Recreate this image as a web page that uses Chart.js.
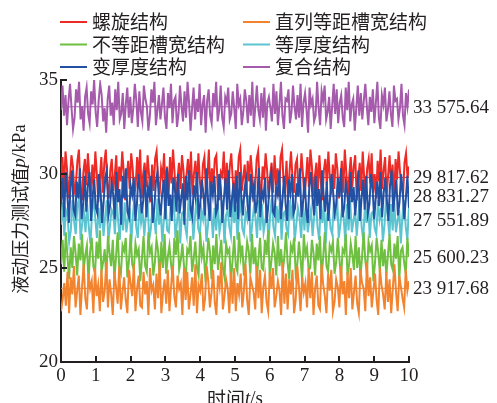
<!DOCTYPE html>
<html>
<head>
<meta charset="utf-8">
<script src="https://cdn.jsdelivr.net/npm/chart.js@4/dist/chart.umd.min.js"></script>
<style>
  html, body { margin: 0; padding: 0; background: #ffffff; }
  #wrap { width: 497px; height: 403px; overflow: hidden; }
</style>
</head>
<body>
<div id="wrap"><canvas id="c" width="497" height="403"></canvas></div>
<script>
// Measured pressure p (kPa) over 10 s for six groove structures
const structureNames = ['螺旋结构', '直列等距槽宽结构', '不等距槽宽结构', '等厚度结构', '变厚度结构', '复合结构'];
const seriesColors = ['#ec2a26', '#f2832f', '#6fbf40', '#5cc4d0', '#2250a3', '#a55aac'];
const meanValues = [29.81762, 23.91768, 25.60023, 27.55189, 28.83127, 33.57564];
const xTicks = [0, 1, 2, 3, 4, 5, 6, 7, 8, 9, 10];
const yTicks = [20, 25, 30, 35];
const duration = 10;

const spiral = [29.6, 30.9, 29.1, 31.2, 30.3, 28.7, 29.8, 31.0, 30.4, 28.9, 29.5, 30.7, 31.3, 29.2, 28.6, 30.1, 30.8, 29.4, 31.1, 29.9, 28.8, 30.5, 29.3, 31.2, 30.0, 28.5, 29.7, 30.9, 29.0, 30.6, 31.3, 29.5, 28.7, 30.2, 30.8, 29.1, 29.9, 31.0, 28.9, 30.4, 29.6, 31.2, 30.1, 28.6, 29.8, 30.7, 29.2, 31.1, 30.3, 28.8, 29.4, 30.9, 29.7, 31.3, 28.7, 30.0, 30.6, 29.3, 31.0, 29.9, 28.5, 30.5, 29.1, 30.8, 31.2, 29.6, 28.9, 30.3, 29.8, 31.1, 29.0, 30.4, 28.7, 30.9, 29.5, 31.3, 30.1, 28.8, 29.7, 30.6, 29.2, 31.0, 30.2, 28.6, 29.9, 30.8, 29.4, 31.2, 28.9, 30.0, 30.7, 29.3, 31.1, 29.6, 28.7, 30.5, 30.9, 29.1, 29.8, 31.3, 28.8, 30.3, 29.5, 30.8, 31.0, 29.2, 28.6, 30.1, 29.9, 31.2, 29.0, 30.6, 28.9, 30.4, 31.1, 29.7, 28.7, 30.2, 29.4, 30.9, 31.3, 29.1, 29.8, 30.5, 28.8, 30.7, 29.6, 31.0, 30.0, 28.5, 29.3, 30.8, 31.2, 29.5, 28.9, 30.4, 29.7, 31.1, 30.2, 28.7, 29.9, 30.6, 29.0, 31.0, 29.4, 30.3, 28.8, 30.9, 31.3, 29.6, 29.2, 30.7, 28.6, 30.1, 31.2, 29.8, 29.0, 30.5, 30.8, 28.9, 29.5, 31.1, 30.0, 28.7, 29.7, 30.9, 29.3, 31.3, 30.4, 28.8, 29.9, 30.6, 29.1, 31.0, 29.6, 28.6, 30.2, 30.8, 29.4, 31.2, 29.8, 28.9, 30.5, 29.2, 31.1, 30.3, 28.7, 29.5, 30.7, 29.0, 31.3, 30.1, 28.8, 29.9, 30.9, 29.3, 30.4, 31.0, 28.6, 29.7, 30.6, 29.1, 31.2, 29.8, 28.9, 30.3, 30.8, 29.5, 31.1, 29.0, 30.0, 28.7, 30.7, 29.6, 31.3, 29.2, 30.2, 30.9, 28.8, 29.9, 31.0, 29.4, 30.5, 28.6, 30.8, 29.7, 31.2, 30.1, 29.3, 28.9, 30.6, 31.1, 29.8, 30.4];

const straightGroove = [22.7, 23.3, 24.2, 23.0, 24.8, 22.6, 24.5, 23.6, 25.1, 22.9, 23.8, 24.6, 22.5, 24.0, 25.2, 23.4, 22.8, 24.7, 23.9, 24.3, 22.6, 25.0, 23.5, 24.1, 22.7, 24.9, 23.2, 23.8, 25.3, 22.9, 24.4, 23.6, 22.5, 24.8, 24.0, 23.1, 25.1, 22.8, 23.7, 24.5, 23.3, 22.6, 24.9, 24.2, 23.5, 25.2, 22.7, 23.9, 24.6, 23.0, 22.9, 24.8, 23.6, 24.3, 22.5, 25.0, 23.8, 24.1, 22.8, 24.7, 23.4, 25.3, 22.6, 23.7, 24.4, 23.1, 24.9, 22.7, 24.0, 25.1, 23.5, 22.9, 24.6, 23.9, 24.2, 22.5, 25.0, 23.3, 24.8, 22.8, 23.6, 24.5, 23.0, 25.2, 22.6, 24.1, 23.8, 24.7, 22.7, 23.4, 25.1, 24.3, 22.9, 23.7, 24.9, 23.2, 22.5, 24.6, 24.0, 25.3, 22.8, 23.5, 24.4, 23.9, 22.6, 24.8, 23.1, 25.0, 22.7, 24.2, 23.6, 24.7, 22.9, 23.8, 25.2, 23.3, 22.5, 24.5, 24.1, 23.7, 22.8, 25.1, 23.4, 24.9, 22.6, 24.0, 24.6, 23.2, 22.7, 24.8, 23.9, 25.0, 22.9, 23.5, 24.3, 23.8, 22.5, 25.3, 23.1, 24.7, 22.8, 24.4, 23.6, 24.9, 22.6, 23.3, 25.1, 24.0, 22.7, 24.5, 23.7, 24.2, 22.9, 25.0, 23.4, 24.8, 22.5, 23.9, 24.6, 23.0, 22.8, 25.2, 24.1, 23.5, 22.6, 24.7, 23.8, 24.9, 22.7, 23.2, 24.4, 24.0, 22.9, 25.1, 23.6, 24.3, 22.5, 24.8, 23.4, 25.0, 22.8, 23.7, 24.6, 23.1, 22.6, 24.9, 24.2, 23.9, 22.7, 25.3, 23.5, 24.5, 22.9, 23.8, 24.7, 23.3, 22.5, 25.0, 24.1, 23.6, 22.8, 24.8, 23.2, 24.4, 22.6, 23.9, 25.2, 23.7, 22.7, 24.6, 24.0, 23.4, 22.9, 24.9, 23.8, 24.3];

const unequalGroove = [25.2, 26.5, 24.8, 26.9, 25.6, 24.4, 26.1, 25.0, 26.7, 25.8, 24.6, 26.3, 25.4, 26.8, 24.9, 25.7, 26.2, 24.3, 25.9, 26.6, 25.1, 24.7, 26.4, 25.5, 27.0, 24.8, 25.3, 26.0, 24.5, 26.7, 25.8, 25.1, 26.5, 24.4, 25.6, 26.9, 25.0, 24.7, 26.2, 25.9, 26.6, 24.5, 25.4, 26.8, 25.2, 24.9, 26.3, 25.7, 26.0, 24.3, 25.5, 26.7, 25.1, 24.8, 26.9, 25.8, 26.1, 24.6, 25.3, 26.5, 25.9, 24.4, 26.4, 25.0, 26.8, 24.7, 25.6, 26.2, 25.2, 24.5, 26.6, 25.7, 27.0, 24.9, 25.4, 26.3, 25.1, 24.3, 26.0, 25.8, 26.7, 24.8, 25.5, 26.4, 25.0, 24.6, 26.9, 25.6, 26.1, 24.7, 25.3, 26.6, 25.9, 24.4, 26.2, 25.2, 26.8, 24.9, 25.7, 26.5, 25.0, 24.5, 26.3, 25.8, 26.0, 24.3, 25.4, 26.7, 25.1, 24.8, 26.9, 25.6, 26.2, 24.6, 25.3, 26.4, 25.9, 24.7, 26.8, 25.2, 26.1, 24.4, 25.5, 26.6, 25.0, 24.9, 26.5, 25.7, 27.0, 24.5, 25.4, 26.3, 25.8, 24.6, 26.7, 25.1, 26.0, 24.8, 25.6, 26.9, 25.3, 24.4, 26.2, 25.9, 26.6, 24.7, 25.2, 26.4, 25.5, 24.3, 26.8, 25.7, 26.1, 24.9, 25.0, 26.5, 25.8, 24.6, 26.3, 25.4, 26.7, 24.5, 25.6, 26.9, 25.1, 24.8, 26.2, 25.9, 26.4, 24.7, 25.3, 26.6, 25.5, 24.4, 26.0, 25.8, 26.8, 24.6, 25.2, 26.3, 25.7, 24.9, 26.7, 25.0, 26.1, 24.5, 25.6, 26.9, 25.4, 24.7, 26.4, 25.9, 26.2, 24.3, 25.3, 26.6, 25.8, 24.8, 26.5, 25.1, 26.0, 24.6, 25.7, 26.8, 25.2, 24.9, 26.3, 25.5, 26.7, 24.4, 25.9, 26.1, 25.3, 24.7, 26.6, 25.6];

const uniformThickness = [27.3, 28.5, 26.7, 28.1, 27.8, 26.4, 27.0, 28.6, 27.5, 26.8, 28.3, 28.7, 26.5, 27.4, 28.0, 26.9, 28.4, 27.2, 26.3, 27.9, 28.8, 27.6, 26.6, 28.2, 27.1, 28.5, 26.7, 27.7, 28.6, 26.4, 27.3, 28.1, 27.9, 26.8, 28.7, 27.5, 26.5, 28.3, 27.0, 28.5, 26.9, 27.6, 28.2, 26.3, 27.8, 28.8, 27.2, 26.6, 28.4, 27.4, 28.0, 26.7, 27.9, 28.6, 26.5, 27.1, 28.3, 27.7, 26.8, 28.7, 27.3, 28.1, 26.4, 27.6, 28.5, 27.0, 26.9, 28.2, 27.8, 28.8, 26.6, 27.4, 28.4, 26.3, 27.9, 28.0, 27.2, 26.7, 28.6, 27.5, 28.3, 26.5, 27.7, 28.7, 27.1, 26.8, 28.1, 27.6, 28.5, 26.4, 27.3, 28.8, 27.9, 26.6, 28.2, 27.0, 28.4, 26.9, 27.5, 28.6, 26.3, 27.8, 28.1, 27.2, 26.7, 28.7, 27.4, 28.3, 26.5, 27.9, 28.5, 27.1, 26.8, 28.0, 27.6, 28.8, 26.4, 27.3, 28.2, 27.7, 26.6, 28.6, 27.0, 28.4, 26.9, 27.5, 28.1, 26.3, 27.8, 28.7, 27.2, 26.7, 28.3, 27.4, 28.5, 26.5, 27.9, 28.0, 27.1, 26.8, 28.6, 27.6, 28.8, 26.4, 27.3, 28.2, 27.7, 26.6, 28.4, 27.0, 28.5, 26.9, 27.5, 28.1, 26.7, 27.8, 28.7, 27.2, 26.5, 28.3, 27.4, 28.6, 26.3, 27.9, 28.0, 27.1, 26.8, 28.5, 27.6, 28.8, 26.6, 27.3, 28.2, 27.7, 26.4, 28.4, 27.0, 28.6, 26.9, 27.5, 28.1, 26.7, 27.8, 28.7, 27.2, 26.5, 28.3, 27.4, 28.5, 26.6, 27.9, 28.0, 27.1, 26.8, 28.6, 27.6, 28.2, 26.4, 27.3, 28.8, 27.7, 26.7, 28.4, 27.0, 28.5, 26.9, 27.5, 28.1, 26.3, 27.8, 28.6, 27.2, 26.5, 28.3];

const variableThickness = [28.5, 29.8, 27.7, 30.1, 28.9, 27.4, 29.3, 30.2, 28.1, 27.8, 29.6, 28.7, 30.3, 27.6, 28.4, 29.9, 28.0, 29.4, 30.1, 27.5, 28.8, 29.7, 28.2, 27.9, 30.0, 29.1, 27.4, 28.6, 29.8, 30.2, 27.8, 28.3, 29.5, 28.9, 27.6, 30.1, 28.5, 29.2, 27.3, 29.9, 28.7, 30.3, 28.0, 27.7, 29.4, 28.9, 29.8, 27.5, 28.4, 30.0, 29.1, 27.9, 28.6, 30.2, 27.7, 29.3, 28.8, 29.9, 27.4, 28.2, 29.6, 30.1, 28.5, 27.8, 29.0, 29.7, 27.6, 30.3, 28.3, 28.9, 27.5, 29.8, 29.2, 28.0, 30.0, 27.9, 28.7, 29.5, 27.3, 29.9, 28.6, 30.2, 28.1, 27.7, 29.4, 28.8, 30.1, 27.6, 28.4, 29.7, 29.0, 27.8, 30.3, 28.5, 27.5, 29.6, 28.9, 29.9, 27.9, 28.2, 30.0, 29.3, 27.4, 28.7, 29.8, 28.1, 30.2, 27.7, 28.6, 29.5, 28.0, 29.9, 27.6, 30.1, 28.8, 27.8, 29.2, 29.7, 28.3, 27.5, 30.0, 28.9, 29.4, 27.9, 28.5, 30.3, 27.7, 29.1, 28.7, 29.8, 27.4, 28.3, 29.6, 30.1, 28.0, 27.8, 29.3, 28.9, 30.2, 27.6, 28.6, 29.9, 28.4, 27.5, 29.7, 29.0, 30.0, 27.9, 28.2, 29.5, 28.8, 30.3, 27.7, 28.5, 29.8, 28.1, 27.4, 29.4, 30.1, 28.7, 27.8, 29.9, 28.3, 29.2, 27.6, 30.2, 28.9, 28.0, 29.6, 27.5, 28.6, 30.0, 29.1, 27.9, 28.4, 29.8, 28.8, 30.3, 27.7, 28.2, 29.5, 29.0, 27.6, 30.1, 28.5, 29.3, 27.8, 28.9, 30.2, 27.5, 28.7, 29.7, 28.1, 29.9, 27.9, 28.4, 30.0, 29.2, 27.6, 28.8, 29.6, 28.3, 30.1, 27.7, 29.0, 29.8, 28.6, 27.5, 29.4, 30.2, 28.0, 28.9, 29.7, 27.8, 28.5, 30.0, 29.1, 27.6, 28.7, 29.9, 28.2];

const composite = [33.4, 34.7, 33.1, 34.2, 32.6, 33.9, 34.8, 33.5, 32.4, 33.0, 34.5, 33.8, 34.9, 32.9, 33.6, 32.3, 34.1, 34.6, 33.2, 32.7, 34.4, 33.7, 35.0, 33.3, 32.5, 33.9, 34.8, 34.2, 32.8, 33.5, 32.2, 34.0, 34.7, 33.1, 33.8, 32.6, 34.5, 33.4, 34.9, 32.9, 33.2, 34.3, 32.4, 33.7, 34.6, 33.0, 34.1, 32.7, 33.5, 34.8, 33.9, 32.5, 34.4, 33.3, 32.8, 34.7, 34.0, 33.6, 32.3, 33.1, 34.5, 33.8, 34.9, 32.6, 33.4, 34.2, 32.9, 33.7, 34.6, 33.0, 32.4, 34.3, 33.5, 34.8, 32.7, 33.9, 34.1, 32.5, 33.2, 34.7, 33.6, 32.8, 34.4, 33.0, 34.9, 33.8, 32.3, 33.5, 34.6, 32.9, 34.0, 33.3, 34.8, 32.6, 33.7, 34.2, 32.2, 33.9, 34.5, 33.1, 32.7, 34.3, 33.6, 34.9, 32.8, 33.4, 34.7, 33.0, 32.5, 34.1, 33.8, 34.6, 32.9, 33.2, 34.4, 33.5, 32.4, 34.8, 33.7, 34.0, 32.6, 33.3, 34.5, 33.9, 32.7, 34.2, 33.1, 34.9, 32.5, 33.6, 34.7, 33.4, 32.9, 34.3, 33.0, 34.6, 32.3, 33.8, 34.1, 33.5, 32.8, 34.8, 33.2, 34.4, 32.6, 33.7, 34.9, 33.1, 32.4, 34.0, 33.9, 34.5, 32.7, 33.3, 34.7, 33.6, 32.9, 34.2, 33.0, 34.8, 32.5, 33.8, 34.3, 33.4, 32.2, 34.6, 33.7, 34.0, 32.8, 33.1, 34.9, 33.5, 32.6, 34.4, 33.9, 34.7, 32.9, 33.3, 34.1, 32.4, 33.6, 34.8, 33.2, 34.5, 32.7, 33.8, 34.2, 33.0, 32.5, 34.6, 33.4, 34.9, 32.8, 33.7, 34.0, 32.3, 33.5, 34.7, 33.1, 34.3, 32.9, 33.9, 34.8, 33.6, 32.6, 34.1, 33.3, 34.5, 32.7, 33.8, 34.9, 33.0, 32.4, 34.2, 33.7, 34.6, 32.8, 33.4, 34.4, 33.2, 32.5, 34.7, 33.9, 34.0, 32.9, 33.5, 34.8, 33.1, 32.6, 34.3, 33.6, 34.5];

const seriesValues = [spiral, straightGroove, unequalGroove, uniformThickness, variableThickness, composite];
// stacking rank per series: lower rank is painted on top
const drawOrder = [5, 1, 2, 4, 3, 6];

const TEXT = '#231f20';
const SERIF = '"Liberation Serif", "Times New Roman", serif';
const CJK = '"Noto Sans CJK SC", sans-serif';

function toPoints(values) {
  const n = values.length;
  return values.map((v, i) => ({ x: i * duration / (n - 1), y: v }));
}

const datasets = [];
seriesValues.forEach((vals, k) => {
  datasets.push({
    label: structureNames[k],
    data: toPoints(vals),
    borderColor: seriesColors[k],
    borderWidth: 2,
    pointRadius: 0,
    tension: 0,
    order: drawOrder[k] * 2 + 2
  });
});
meanValues.forEach((m, k) => {
  datasets.push({
    label: structureNames[k] + ' 均值',
    data: [{ x: 0, y: m }, { x: duration, y: m }],
    borderColor: seriesColors[k],
    borderWidth: 1,
    pointRadius: 0,
    order: drawOrder[k] * 2 + 1
  });
});

function fmtThousands(v) {
  const s = (v * 1000).toFixed(2);
  const [intPart, dec] = s.split('.');
  return intPart.replace(/\B(?=(\d{3})+(?!\d))/g, ' ') + '.' + dec;
}

// drawing helpers: mixed-font runs
function runWidth(ctx, parts) {
  let w = 0;
  parts.forEach(p => { ctx.font = p.font; w += ctx.measureText(p.text).width; });
  return w;
}
function drawRuns(ctx, parts, x, y) {
  parts.forEach(p => {
    ctx.font = p.font;
    ctx.fillText(p.text, x, y);
    x += ctx.measureText(p.text).width;
  });
}

const decorations = {
  id: 'decorations',
  afterDraw(chart) {
    const ctx = chart.ctx;
    const area = chart.chartArea;
    const xs = chart.scales.x, ys = chart.scales.y;
    ctx.save();
    ctx.fillStyle = TEXT;
    ctx.strokeStyle = TEXT;

    // inward tick marks
    ctx.lineWidth = 2;
    ctx.beginPath();
    xTicks.forEach(t => {
      if (t === 0) return;
      const px = Math.round(xs.getPixelForValue(t));
      ctx.moveTo(px, area.bottom);
      ctx.lineTo(px, area.bottom - 6);
    });
    yTicks.forEach(t => {
      const py = Math.round(ys.getPixelForValue(t));
      ctx.moveTo(area.left, py);
      ctx.lineTo(area.left + 6, py);
    });
    ctx.stroke();

    // mean value labels on the right
    ctx.textAlign = 'left';
    ctx.textBaseline = 'middle';
    ctx.font = '19px ' + SERIF;
    meanValues.forEach(m => {
      ctx.fillText(fmtThousands(m), area.right + 4, ys.getPixelForValue(m) + 1);
    });

    // legend, two columns
    const colLine = [60, 243];
    ctx.lineWidth = 2;
    structureNames.forEach((name, k) => {
      const col = k % 2, row = Math.floor(k / 2);
      const y = 22 + row * 22.5;
      ctx.strokeStyle = seriesColors[k];
      ctx.beginPath();
      ctx.moveTo(colLine[col], y);
      ctx.lineTo(colLine[col] + 27, y);
      ctx.stroke();
      ctx.font = '19px ' + CJK;
      ctx.fillText(name, colLine[col] + 32, y);
    });

    // x axis title
    const xTitle = [
      { text: '时间', font: '19px ' + CJK },
      { text: 't', font: 'italic 19px ' + SERIF },
      { text: '/s', font: '19px ' + SERIF }
    ];
    const xw = runWidth(ctx, xTitle);
    ctx.textBaseline = 'middle';
    drawRuns(ctx, xTitle, (area.left + area.right) / 2 - xw / 2, 399);

    // y axis title
    const yTitle = [
      { text: '液动压力测试值', font: '18px ' + CJK },
      { text: 'p', font: 'italic 19px ' + SERIF },
      { text: '/kPa', font: '19px ' + SERIF }
    ];
    const yw = runWidth(ctx, yTitle);
    ctx.translate(20, 209);
    ctx.rotate(-Math.PI / 2);
    drawRuns(ctx, yTitle, -yw / 2, 0);
    ctx.restore();
  }
};

Chart.defaults.font.family = SERIF;
Chart.defaults.font.size = 19;
Chart.defaults.color = TEXT;

new Chart(document.getElementById('c'), {
  type: 'line',
  data: { datasets },
  options: {
    responsive: false,
    animation: false,
    devicePixelRatio: 1,
    layout: { padding: { top: 80, right: 88, left: 0, bottom: 0 } },
    plugins: { legend: { display: false }, tooltip: { enabled: false } },
    scales: {
      x: {
        type: 'linear',
        min: 0, max: 10,
        afterBuildTicks: s => { s.ticks = xTicks.map(v => ({ value: v })); },
        afterFit: s => { s.height = 41; },
        ticks: { padding: 3, color: TEXT, font: { size: 19 } },
        grid: { display: true, drawOnChartArea: false, drawTicks: false },
        border: { display: true, color: TEXT, width: 2 }
      },
      y: {
        type: 'linear',
        min: 20, max: 35,
        afterBuildTicks: s => { s.ticks = yTicks.map(v => ({ value: v })); },
        afterFit: s => { s.width = 61; },
        ticks: { padding: 3, color: TEXT, font: { size: 19 } },
        grid: { display: true, drawOnChartArea: false, drawTicks: false },
        border: { display: true, color: TEXT, width: 2 }
      }
    }
  },
  plugins: [decorations]
});
</script>
</body>
</html>
